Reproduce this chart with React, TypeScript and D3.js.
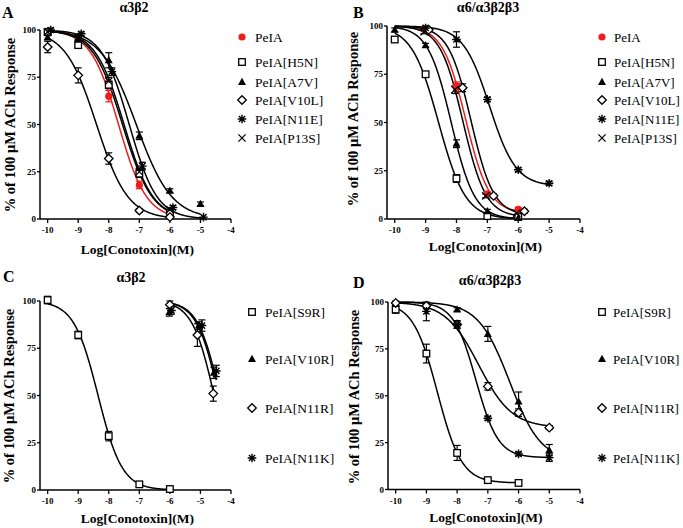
import React from "react";
import * as d3 from "d3";

// ---------- shared ticks ----------
const LOG_TICKS = [-10, -9, -8, -7, -6, -5, -4];
const PCT_TICKS = [0, 25, 50, 75, 100];

// ---------- Panel A : α3β2 ----------
const A_names = ["PeIA", "PeIA[H5N]", "PeIA[A7V]", "PeIA[V10L]", "PeIA[N11E]", "PeIA[P13S]"];
const A_marks = ["circle", "square", "triangle", "diamond", "star", "cross"];
const A_x = [
  [-10, -9, -8, -7, -6],
  [-10, -9, -8, -7, -6],
  [-10, -9, -8, -7, -6, -5],
  [-10, -9, -8, -7, -6],
  [-9.9, -8.9, -7.9, -6.9, -5.9, -4.9],
  [-10, -9, -8, -7, -6],
];
const A_y = [
  [99, 93, 65, 18, 3],
  [99, 92, 71, 24, 3],
  [96, 95, 84, 44, 15, 8],
  [91, 76, 32, 4.5, 1],
  [100, 98, 78, 28, 6, 1],
  [99, 96, 73, 25, 5],
];
const A_err = [
  [1, 2, 3, 2, 1],
  [1, 1, 2, 2, 1],
  [1, 1, 4, 2, 1, 1],
  [3, 4, 3, 1, 0.5],
  [1, 1, 2, 2, 1, 0.5],
  [1, 1, 2, 2, 1],
];
const A_logIC50 = [-7.68, -7.55, -7.1, -8.4, -7.33, -7.5];
const A_hill = [0.95, 0.9, 0.75, 0.85, 0.96, 0.92];
const A_top = [100, 100, 100, 100, 100, 100];
const A_bottom = [0, 0, 0, 0, 0, 0];
const A_fitFrom = [-10, -10, -10, -10, -10, -10];

// ---------- Panel B : α6/α3β2β3 ----------
const B_names = ["PeIA", "PeIA[H5N]", "PeIA[A7V]", "PeIA[V10L]", "PeIA[N11E]", "PeIA[P13S]"];
const B_marks = ["circle", "square", "triangle", "diamond", "star", "cross"];
const B_x = [
  [-9, -8, -7, -6],
  [-10, -9, -8, -7, -6],
  [-10, -9, -8, -7, -6],
  [-8.9, -7.8, -6.8, -5.8],
  [-9, -8, -7, -6, -5],
  [-9.05, -8.05, -7.05, -6.05],
];
const B_y = [
  [98, 69, 13, 5],
  [93, 75, 21, 1.5, 1],
  [98, 90, 39, 4, 0.5],
  [98, 68, 12, 4],
  [99, 93, 62, 25.5, 18.5],
  [97, 67, 12, 3],
];
const B_err = [
  [1, 2, 1, 1],
  [1, 1, 2, 0.5, 0.5],
  [1, 1, 2, 1, 0.5],
  [1, 2, 1, 1],
  [1, 4, 1, 1, 1],
  [1, 2, 1, 1],
];
const B_logIC50 = [-7.7, -8.58, -8.17, -7.53, -6.93, -7.79];
const B_hill = [1.15, 1.0, 1.15, 1.19, 1.02, 1.17];
const B_top = [100, 100, 100, 100, 100, 100];
const B_bottom = [3, 0, 0, 2, 17, 1];
const B_fitFrom = [-10, -10, -10, -10, -10, -10];

// ---------- Panel C : α3β2 ----------
const C_names = ["PeIA[S9R]", "PeIA[V10R]", "PeIA[N11R]", "PeIA[N11K]"];
const C_marks = ["square", "triangle", "diamond", "star"];
const C_x = [
  [-10, -9, -8, -7, -6],
  [-6.02, -5.05, -4.56],
  [-6, -5.1, -4.58],
  [-5.95, -4.95, -4.48],
];
const C_y = [
  [100.5, 82, 28.5, 3, 0.5],
  [94, 87, 62],
  [98, 82, 51],
  [95, 87, 63],
];
const C_err = [
  [2, 2, 2.5, 1, 0.5],
  [2, 2, 3],
  [2, 6, 4],
  [2, 3, 3],
];
const C_logIC50 = [-8.35, -4.4, -4.55, -4.36];
const C_hill = [1.1, 1.2, 1.2, 1.2];
const C_top = [100, 100, 100, 100];
const C_bottom = [0, 0, 0, 0];
const C_fitFrom = [-10, -6, -6, -6];

// ---------- Panel D : α6/α3β2β3 ----------
const D_names = ["PeIA[S9R]", "PeIA[V10R]", "PeIA[N11R]", "PeIA[N11K]"];
const D_marks = ["square", "triangle", "diamond", "star"];
const D_x = [
  [-10, -9, -8, -7, -6],
  [-10, -9, -8, -7, -6, -5],
  [-10, -9, -8, -7, -6, -5],
  [-9, -8, -7, -6, -5],
];
const D_y = [
  [96, 72.5, 19.5, 5, 3.5],
  [99, 98, 96, 83, 47, 21],
  [99.5, 98, 88, 55, 41, 33],
  [95, 88, 38, 19, 17],
];
const D_err = [
  [2, 5, 4, 1, 1],
  [1, 1, 1, 4, 5, 3],
  [1, 1, 2, 2, 2, 1],
  [5, 2, 1, 1, 2],
];
const D_logIC50 = [-8.64, -6.29, -7.3, -7.39];
const D_hill = [1.1, 0.85, 0.8, 1.2];
const D_top = [100, 100, 100, 100];
const D_bottom = [3.5, 15, 33, 17];
const D_fitFrom = [-10, -10, -10, -10];

const RED = "#ee1c1c";
const FONT = "'Liberation Serif', 'Times New Roman', serif";

function Marker({ type, x, y }: { type: string; x: number; y: number }) {
  const t = `translate(${x},${y})`;
  switch (type) {
    case "circle":
      return <circle cx={x} cy={y} r={3.6} fill={RED} />;
    case "square":
      return <rect x={x - 3.3} y={y - 3.3} width={6.6} height={6.6} fill="#fff" stroke="#000" strokeWidth={1.3} />;
    case "triangle":
      return <path transform={t} d="M0,-4.2L4,3L-4,3Z" fill="#000" />;
    case "diamond":
      return <path transform={t} d="M0,-4.3L4.3,0L0,4.3L-4.3,0Z" fill="#fff" stroke="#000" strokeWidth={1.3} />;
    case "star":
      return (
        <path
          transform={t}
          d="M0,-4.3V4.3M-4.3,0H4.3M-3.1,-3.1L3.1,3.1M-3.1,3.1L3.1,-3.1"
          stroke="#000"
          strokeWidth={1.4}
          fill="none"
        />
      );
    case "cross":
      return <path transform={t} d="M-3.6,-3.6L3.6,3.6M-3.6,3.6L3.6,-3.6" stroke="#000" strokeWidth={1.3} fill="none" />;
    default:
      return null;
  }
}

type PanelProps = {
  letter: string;
  title: string;
  axisX: number;
  xEnd: number;
  yTop: number;
  yBottom: number;
  names: string[];
  marks: string[];
  xs: number[][];
  ys: number[][];
  errs: number[][];
  ic50: number[];
  hill: number[];
  top: number[];
  bottom: number[];
  fitFrom: number[];
  letterPos: [number, number];
  titlePos: [number, number];
  yLabelPos: [number, number];
  xLabelY: number;
  legendX: number;
  legendGap: number;
  legendFont: number;
  legendYs: number[];
};

function Panel(p: PanelProps) {
  const x = d3.scaleLinear().domain([-10.25, -4]).range([p.axisX, p.xEnd]);
  const y = d3.scaleLinear().domain([0, 100]).range([p.yBottom, p.yTop]);
  const line = d3
    .line<[number, number]>()
    .x((d) => x(d[0]))
    .y((d) => y(d[1]));
  const xCenter = (x(-10) + x(-4)) / 2;

  return (
    <g fontFamily={FONT}>
      <text x={p.letterPos[0]} y={p.letterPos[1]} fontSize={16} fontWeight="bold">
        {p.letter}
      </text>
      <text x={p.titlePos[0]} y={p.titlePos[1]} fontSize={14} fontWeight="bold" textAnchor="middle">
        {p.title}
      </text>
      <text
        transform={`translate(${p.yLabelPos[0]},${p.yLabelPos[1]}) rotate(-90)`}
        fontSize={14.5}
        fontWeight="bold"
        textAnchor="middle"
        dominantBaseline="central"
      >
        % of 100 μM ACh Response
      </text>
      <text x={xCenter - 2} y={p.xLabelY} fontSize={13.5} fontWeight="bold" textAnchor="middle">
        Log[Conotoxin](M)
      </text>

      {/* axes */}
      <line x1={p.axisX} x2={p.axisX} y1={y(100)} y2={y(0)} stroke="#000" strokeWidth={1.5} />
      <line x1={p.axisX} x2={x(-4)} y1={y(0)} y2={y(0)} stroke="#000" strokeWidth={1.5} />
      {PCT_TICKS.map((v) => (
        <g key={"yt" + v}>
          <line x1={p.axisX - 3} x2={p.axisX} y1={y(v)} y2={y(v)} stroke="#000" strokeWidth={1.3} />
          <text x={p.axisX - 4} y={y(v)} fontSize={9} fontWeight="bold" textAnchor="end" dominantBaseline="central">
            {v}
          </text>
        </g>
      ))}
      {LOG_TICKS.map((v) => (
        <g key={"xt" + v}>
          <line x1={x(v)} x2={x(v)} y1={y(0)} y2={y(0) + 4} stroke="#000" strokeWidth={1.3} />
          <text x={x(v)} y={y(0) + 14} fontSize={9} fontWeight="bold" textAnchor="middle">
            {v}
          </text>
        </g>
      ))}

      {/* fitted curves */}
      {p.names.map((n, i) => {
        const x1 = d3.max(p.xs[i]) as number;
        const pts: [number, number][] = d3
          .range(p.fitFrom[i], x1 + 0.001, 0.02)
          .map((v) => [v, p.bottom[i] + (p.top[i] - p.bottom[i]) / (1 + Math.pow(10, (v - p.ic50[i]) * p.hill[i]))]);
        return (
          <path
            key={"c" + n}
            d={line(pts) || ""}
            fill="none"
            stroke={p.marks[i] === "circle" ? RED : "#000"}
            strokeWidth={1.5}
          />
        );
      })}

      {/* error bars */}
      {p.names.map((n, i) =>
        p.xs[i].map((xv, j) => {
          const e = p.errs[i][j];
          if (!e || e < 1) return null;
          const cx = x(xv);
          const col = p.marks[i] === "circle" ? RED : "#000";
          return (
            <g key={"e" + n + j} stroke={col} strokeWidth={1.2}>
              <line x1={cx} x2={cx} y1={y(p.ys[i][j] - e)} y2={y(p.ys[i][j] + e)} />
              <line x1={cx - 3.5} x2={cx + 3.5} y1={y(p.ys[i][j] - e)} y2={y(p.ys[i][j] - e)} />
              <line x1={cx - 3.5} x2={cx + 3.5} y1={y(p.ys[i][j] + e)} y2={y(p.ys[i][j] + e)} />
            </g>
          );
        })
      )}

      {/* markers */}
      {p.names.map((n, i) =>
        p.xs[i].map((xv, j) => <Marker key={"m" + n + j} type={p.marks[i]} x={x(xv)} y={y(p.ys[i][j])} />)
      )}

      {/* legend */}
      {p.names.map((n, i) => (
        <g key={"l" + n}>
          <Marker type={p.marks[i]} x={p.legendX} y={p.legendYs[i]} />
          <text x={p.legendX + p.legendGap} y={p.legendYs[i]} fontSize={p.legendFont} dominantBaseline="central">
            {n}
          </text>
        </g>
      ))}
    </g>
  );
}

export default function App() {
  return (
    <svg
      width={683}
      height={528}
      style={{ position: "absolute", left: 0, top: 0, background: "#fff" }}
    >
      <rect width={683} height={528} fill="#fff" />
      <Panel
        letter="A"
        title="α3β2"
        axisX={40}
        xEnd={231}
        yTop={30}
        yBottom={219}
        names={A_names}
        marks={A_marks}
        xs={A_x}
        ys={A_y}
        errs={A_err}
        ic50={A_logIC50}
        hill={A_hill}
        top={A_top}
        bottom={A_bottom}
        fitFrom={A_fitFrom}
        letterPos={[2, 18]}
        titlePos={[134, 12]}
        yLabelPos={[10, 125]}
        xLabelY={254}
        legendX={242}
        legendGap={13}
        legendFont={13.5}
        legendYs={[37, 62, 82, 100, 119, 138]}
      />
      <Panel
        letter="B"
        title="α6/α3β2β3"
        axisX={387}
        xEnd={580}
        yTop={26}
        yBottom={219}
        names={B_names}
        marks={B_marks}
        xs={B_x}
        ys={B_y}
        errs={B_err}
        ic50={B_logIC50}
        hill={B_hill}
        top={B_top}
        bottom={B_bottom}
        fitFrom={B_fitFrom}
        letterPos={[353, 18]}
        titlePos={[488, 12]}
        yLabelPos={[353, 119]}
        xLabelY={251}
        legendX={602}
        legendGap={12}
        legendFont={13}
        legendYs={[37, 62, 82, 100, 119, 138]}
      />
      <Panel
        letter="C"
        title="α3β2"
        axisX={40}
        xEnd={231}
        yTop={301}
        yBottom={490}
        names={C_names}
        marks={C_marks}
        xs={C_x}
        ys={C_y}
        errs={C_err}
        ic50={C_logIC50}
        hill={C_hill}
        top={C_top}
        bottom={C_bottom}
        fitFrom={C_fitFrom}
        letterPos={[3, 282]}
        titlePos={[131, 282]}
        yLabelPos={[9, 396]}
        xLabelY={523}
        legendX={252}
        legendGap={13}
        legendFont={13.5}
        legendYs={[312, 359, 408, 458]}
      />
      <Panel
        letter="D"
        title="α6/α3β2β3"
        axisX={388}
        xEnd={580}
        yTop={302}
        yBottom={489.5}
        names={D_names}
        marks={D_marks}
        xs={D_x}
        ys={D_y}
        errs={D_err}
        ic50={D_logIC50}
        hill={D_hill}
        top={D_top}
        bottom={D_bottom}
        fitFrom={D_fitFrom}
        letterPos={[353, 288]}
        titlePos={[490, 285]}
        yLabelPos={[354, 397]}
        xLabelY={522}
        legendX={602}
        legendGap={11}
        legendFont={13}
        legendYs={[312, 359, 408, 458]}
      />
    </svg>
  );
}
